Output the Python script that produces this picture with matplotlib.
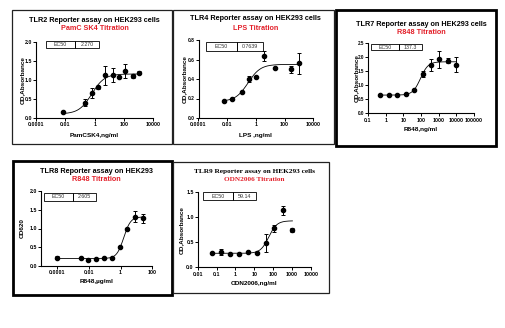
import numpy as np
import matplotlib
matplotlib.use('Agg')
import matplotlib.pyplot as plt
from matplotlib.patches import Rectangle

plt.rcParams['font.family'] = ['Liberation Sans', 'DejaVu Sans']

W, H = 505, 328
fig = plt.figure(figsize=(5.05, 3.28), dpi=100)
fig.patch.set_facecolor('white')

RED = '#e3202a'

# ---------------- data ----------------
# TLR2 - PamCSK4 titration
tlr2_x = [0.0072, 0.22, 0.63, 1.6, 5, 17, 46, 123, 400, 1100]
tlr2_y = [0.16, 0.40, 0.65, 0.81, 1.12, 1.13, 1.07, 1.23, 1.10, 1.19]
tlr2_err = [0.02, 0.10, 0.13, 0.04, 0.25, 0.18, 0.03, 0.19, 0.06, 0.04]
tlr2_fit = [0.10, 1.16, -0.2, 1.0]          # bottom, top, logEC50, hill
tlr2_xticks = [1e-4, 1e-2, 1, 1e2, 1e4]
tlr2_xticklabels = ['0.0001', '0.01', '1', '100', '10000']
tlr2_yticks = [0.0, 0.5, 1.0, 1.5, 2.0]

# TLR4 - LPS titration
tlr4_x = [0.0059, 0.022, 0.1, 0.35, 1.0, 3.6, 20, 300, 1000]
tlr4_y = [0.178, 0.195, 0.267, 0.40, 0.425, 0.635, 0.515, 0.50, 0.56]
tlr4_err = [0.01, 0.005, 0.005, 0.03, 0.005, 0.05, 0.01, 0.035, 0.105]
tlr4_fit = [0.17, 0.55, -0.55, 1.0]
tlr4_xticks = [1e-4, 1e-2, 1, 1e2, 1e4]
tlr4_xticklabels = ['0.0001', '0.01', '1', '100', '10000']
tlr4_yticks = [0.0, 0.2, 0.4, 0.6, 0.8]

# TLR7 - R848 titration
tlr7_x = [0.5, 1.5, 4.6, 13.7, 41, 123, 370, 1111, 3333, 10000]
tlr7_y = [0.66, 0.66, 0.66, 0.70, 0.85, 1.40, 1.72, 1.93, 1.88, 1.73]
tlr7_err = [0.01, 0.01, 0.01, 0.02, 0.02, 0.10, 0.22, 0.30, 0.10, 0.27]
tlr7_fit = [0.65, 1.84, 1.97, 2.0]
tlr7_xticks = [0.1, 1, 10, 100, 1000, 10000, 100000]
tlr7_xticklabels = ['0.1', '1', '10', '100', '1000', '10000', '100000']
tlr7_yticks = [0.0, 0.5, 1.0, 1.5, 2.0, 2.5]

# TLR8 - R848 titration
tlr8_x = [0.0001, 0.0033, 0.009, 0.03, 0.093, 0.3, 0.91, 2.6, 8, 26]
tlr8_y = [0.22, 0.22, 0.17, 0.19, 0.21, 0.21, 0.51, 0.98, 1.32, 1.27]
tlr8_err = [0.04, 0.02, 0.02, 0.01, 0.01, 0.01, 0.03, 0.02, 0.15, 0.11]
tlr8_fit = [0.20, 1.31, 0.2, 2.0]
tlr8_xticks = [1e-4, 1e-2, 1, 1e2]
tlr8_xticklabels = ['0.0001', '0.01', '1', '100']
tlr8_yticks = [0.0, 0.5, 1.0, 1.5, 2.0]

# TLR9 - ODN2006 titration
tlr9_x = [0.055, 0.17, 0.52, 1.5, 4.5, 13.4, 40, 117, 355, 1070]
tlr9_y = [0.285, 0.31, 0.27, 0.27, 0.30, 0.285, 0.49, 0.78, 1.14, 0.74]
tlr9_err = [0.01, 0.06, 0.01, 0.01, 0.01, 0.01, 0.18, 0.07, 0.09, 0.04]
tlr9_fit = [0.28, 0.93, 1.77, 2.0]
tlr9_xticks = [0.01, 0.1, 1, 10, 100, 1000, 10000]
tlr9_xticklabels = ['0.01', '0.1', '1', '10', '100', '1000', '10000']
tlr9_yticks = [0.0, 0.5, 1.0, 1.5]


def fx(x):
    return x / W


def fy(y):
    return 1 - y / H


def border(x0, y0, x1, y1, lw, color):
    fig.add_artist(Rectangle((fx(x0), fy(y1)), fx(x1) - fx(x0), fy(y0) - fy(y1),
                             transform=fig.transFigure, fill=False, lw=lw,
                             edgecolor=color, zorder=10))


def fit_curve(xs, p):
    b, t, le, h = p
    xx = np.logspace(np.log10(min(xs)), np.log10(max(xs)), 200)
    return xx, b + (t - b) / (1 + 10 ** ((le - np.log10(xx)) * h))


def panel(box, xs, ys, errs, fit, xlim, xticks, xtl, yticks,
          titles, title_y, xlabel, xlabel_y, ylabel, ylabel_x,
          ecbox, ec_val, title_family=None, ylab_size=3.8):
    l, t, r, b = box
    ax = fig.add_axes([fx(l), fy(b), fx(r) - fx(l), fy(t) - fy(b)])
    ax.set_xscale('log')
    ax.set_xlim(*xlim)
    ax.set_ylim(yticks[0], yticks[-1])
    ax.errorbar(xs, ys, yerr=errs, fmt='o', color='black', ms=3.0,
                elinewidth=0.7, capsize=1.4, capthick=0.7, clip_on=False, zorder=3)
    cx, cy = fit_curve(xs, fit)
    ax.plot(cx, cy, color='black', lw=0.6, zorder=2)
    ax.set_xticks(xticks)
    ax.set_xticklabels(xtl)
    ax.minorticks_off()
    ax.set_yticks(yticks)
    ax.set_yticklabels(['%.1f' % v for v in yticks])
    for s in ['top', 'right']:
        ax.spines[s].set_visible(False)
    for s in ['left', 'bottom']:
        ax.spines[s].set_linewidth(0.8)
    ax.tick_params(length=2, width=0.7, pad=1.2, labelsize=3.8)
    ax.tick_params(axis='y', labelsize=ylab_size, pad=0.9)
    for lab in ax.get_xticklabels() + ax.get_yticklabels():
        lab.set_fontweight('bold')
    ax.patch.set_alpha(0)
    cxm = (l + r) / 2
    fam = title_family if title_family else ['Liberation Sans', 'DejaVu Sans']
    fig.text(fx(cxm), fy(title_y[0]), titles[0], ha='center', va='center',
             fontsize=5.2, fontweight='bold', family=fam)
    fig.text(fx(cxm), fy(title_y[1]), titles[1], ha='center', va='center',
             fontsize=5.2, fontweight='bold', color=RED, family=fam)
    fig.text(fx(cxm), fy(xlabel_y), xlabel, ha='center', va='center',
             fontsize=4.6, fontweight='bold')
    fig.text(fx(ylabel_x), fy((t + b) / 2), ylabel, ha='center', va='center',
             rotation=90, fontsize=4.6, fontweight='bold')
    x0, xm, x1, y0, y1 = ecbox
    fig.add_artist(Rectangle((fx(x0), fy(y1)), fx(xm) - fx(x0), fy(y0) - fy(y1),
                             transform=fig.transFigure, fill=False, lw=0.6,
                             edgecolor='black'))
    fig.add_artist(Rectangle((fx(xm), fy(y1)), fx(x1) - fx(xm), fy(y0) - fy(y1),
                             transform=fig.transFigure, fill=False, lw=0.6,
                             edgecolor='black'))
    fig.text(fx((x0 + xm) / 2), fy((y0 + y1) / 2), 'EC50', ha='center', va='center',
             fontsize=3.8, color='#333333')
    fig.text(fx((xm + x1) / 2), fy((y0 + y1) / 2), ec_val, ha='center', va='center',
             fontsize=3.8, color='#333333')
    return ax


panel((36, 42.3, 153.3, 117.7), tlr2_x, tlr2_y, tlr2_err, tlr2_fit,
      (1e-4, 1e4), tlr2_xticks, tlr2_xticklabels, tlr2_yticks,
      ('TLR2 Reporter assay on HEK293 cells', 'PamC SK4 Titration'), (20.7, 29),
      'PamCSK4,ng/ml', 135, 'OD,Absorbance', 22.7,
      (45.7, 75, 99, 41, 48.3), '2.270')

panel((198.5, 40, 313.3, 118), tlr4_x, tlr4_y, tlr4_err, tlr4_fit,
      (1e-4, 1e4), tlr4_xticks, tlr4_xticklabels, tlr4_yticks,
      ('TLR4 Reporter assay on HEK293 cells', 'LPS Titration'), (19, 28.3),
      'LPS ,ng/ml', 135, 'OD,Absorbance', 184.5,
      (206, 237.3, 263.3, 41.7, 50.7), '0.7639', ylab_size=3.5)

panel((368, 43.3, 474, 113.3), tlr7_x, tlr7_y, tlr7_err, tlr7_fit,
      (0.1, 1e5), tlr7_xticks, tlr7_xticklabels, tlr7_yticks,
      ('TLR7 Reporter assay on HEK293 cells', 'R848 Titration'), (25, 32.7),
      'R848,ng/ml', 129.3, 'OD,Absorbance', 356.0,
      (371, 399, 422.3, 44.3, 50), '137.3', ylab_size=3.3)

panel((41, 191, 152.3, 266), tlr8_x, tlr8_y, tlr8_err, tlr8_fit,
      (1e-5, 1e2), tlr8_xticks, tlr8_xticklabels, tlr8_yticks,
      ('TLR8 Reporter assay on HEK293', 'R848 Titration'), (171.7, 179.3),
      'R848,\u00b5g/ml', 281.7, 'OD620', 22.7,
      (44, 72.7, 96, 193.3, 200.7), '2.605')

panel((197.7, 192.3, 310.7, 267.3), tlr9_x, tlr9_y, tlr9_err, tlr9_fit,
      (0.01, 1e4), tlr9_xticks, tlr9_xticklabels, tlr9_yticks,
      ('TLR9 Reporter assay on HEK293 cells', 'ODN2006 Titration'), (171.7, 179.3),
      'ODN2006,ng/ml', 283.3, 'OD,Absorbance', 181,
      (203.3, 233.3, 255.7, 192.3, 200), '59.14',
      title_family=['Liberation Serif', 'DejaVu Serif'])

# panel frames
border(12, 10, 171.5, 143.5, 0.9, '#222222')
border(173, 10, 334, 144, 0.9, '#222222')
border(336, 10, 496, 146, 2.0, 'black')
border(12.5, 161, 172, 294.5, 2.0, 'black')
border(173, 162, 329, 293, 0.9, '#222222')

fig.savefig('out.png', dpi=100)
